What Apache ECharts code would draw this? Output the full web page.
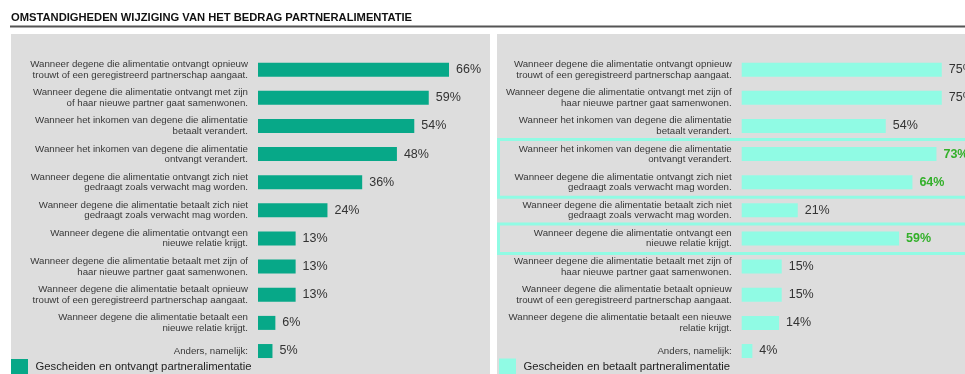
<!DOCTYPE html>
<html>
<head>
<meta charset="utf-8">
<script src="https://cdn.jsdelivr.net/npm/echarts@6/dist/echarts.min.js"></script>
<style>
  html, body { margin: 0; padding: 0; background: #fff; }
  #chart { width: 965px; height: 374px; }
</style>
</head>
<body>
<div id="chart"></div>
<script>
// Survey answers: which circumstances should change partner alimony (% of respondents)
const leftCategories = [
  'Wanneer degene die alimentatie ontvangt opnieuw\ntrouwt of een geregistreerd partnerschap aangaat.',
  'Wanneer degene die alimentatie ontvangt met zijn\nof haar nieuwe partner gaat samenwonen.',
  'Wanneer het inkomen van degene die alimentatie\nbetaalt verandert.',
  'Wanneer het inkomen van degene die alimentatie\nontvangt verandert.',
  'Wanneer degene die alimentatie ontvangt zich niet\ngedraagt zoals verwacht mag worden.',
  'Wanneer degene die alimentatie betaalt zich niet\ngedraagt zoals verwacht mag worden.',
  'Wanneer degene die alimentatie ontvangt een\nnieuwe relatie krijgt.',
  'Wanneer degene die alimentatie betaalt met zijn of\nhaar nieuwe partner gaat samenwonen.',
  'Wanneer degene die alimentatie betaalt opnieuw\ntrouwt of een geregistreerd partnerschap aangaat.',
  'Wanneer degene die alimentatie betaalt een\nnieuwe relatie krijgt.',
  'Anders, namelijk:'
];
const leftValues = [66, 59, 54, 48, 36, 24, 13, 13, 13, 6, 5];

const rightCategories = [
  'Wanneer degene die alimentatie ontvangt opnieuw\ntrouwt of een geregistreerd partnerschap aangaat.',
  'Wanneer degene die alimentatie ontvangt met zijn of\nhaar nieuwe partner gaat samenwonen.',
  'Wanneer het inkomen van degene die alimentatie\nbetaalt verandert.',
  'Wanneer het inkomen van degene die alimentatie\nontvangt verandert.',
  'Wanneer degene die alimentatie ontvangt zich niet\ngedraagt zoals verwacht mag worden.',
  'Wanneer degene die alimentatie betaalt zich niet\ngedraagt zoals verwacht mag worden.',
  'Wanneer degene die alimentatie ontvangt een\nnieuwe relatie krijgt.',
  'Wanneer degene die alimentatie betaalt met zijn of\nhaar nieuwe partner gaat samenwonen.',
  'Wanneer degene die alimentatie betaalt opnieuw\ntrouwt of een geregistreerd partnerschap aangaat.',
  'Wanneer degene die alimentatie betaalt een nieuwe\nrelatie krijgt.',
  'Anders, namelijk:'
];
const rightValues = [75, 75, 54, 73, 64, 21, 59, 15, 15, 14, 4];
// rows (index ranges) that are framed and labelled in green
const rightHighlightGroups = [[3, 4], [6, 6]];

const seriesNames = [
  'Gescheiden en ontvangt partneralimentatie',
  'Gescheiden en betaalt partneralimentatie'
];
const titleText = 'OMSTANDIGHEDEN WIJZIGING VAN HET BEDRAG PARTNERALIMENTATIE';

const FONT = '"Liberation Sans", Arial, sans-serif';
const LEFT_COLOR = '#07a888';
const RIGHT_COLOR = '#90fbe4';
const PANEL_COLOR = '#dddddd';
const HIGHLIGHT_TEXT = '#33b02a';

const highlightRows = new Set();
rightHighlightGroups.forEach(g => { for (let i = g[0]; i <= g[1]; i++) highlightRows.add(i); });

const gridTop = 55.6, gridHeight = 309.5;

function yAxisFor(cats, gridIndex) {
  return {
    type: 'category', gridIndex, data: cats, inverse: true,
    axisLine: { show: false }, axisTick: { show: false }, splitLine: { show: false },
    axisLabel: {
      margin: 10, fontSize: 9.7, lineHeight: 10.5, color: '#383838',
      fontFamily: FONT, align: 'right'
    }
  };
}
function xAxisFor(gridIndex, max) {
  return { type: 'value', gridIndex, min: 0, max, show: false };
}
const valueLabel = {
  show: true, position: 'right', distance: 7, formatter: '{c}%',
  fontSize: 12.5, color: '#333', fontFamily: FONT
};
const legendText = { fontSize: 11.3, color: '#222', fontFamily: FONT, padding: [0, 0, 0, 2.5] };

const chart = echarts.init(document.getElementById('chart'), null, { renderer: 'canvas' });

const option = {
  animation: false,
  backgroundColor: '#fff',
  title: {
    text: titleText, left: 11, top: 12.5, padding: 0,
    textStyle: { fontSize: 11.2, fontWeight: 'bold', color: '#111', fontFamily: FONT }
  },
  graphic: [
    { type: 'rect', z: 0, shape: { x: 10, y: 25.5, width: 960, height: 2 }, style: { fill: '#555' } },
    { type: 'rect', z: 0, shape: { x: 11, y: 34, width: 479, height: 345 }, style: { fill: PANEL_COLOR } },
    { type: 'rect', z: 0, shape: { x: 497, y: 34, width: 480, height: 345 }, style: { fill: PANEL_COLOR } }
  ],
  legend: [
    {
      data: [seriesNames[0]], left: 11, top: 359, padding: 0, itemWidth: 17, itemHeight: 16,
      icon: 'rect', textStyle: legendText
    },
    {
      data: [seriesNames[1]], left: 499, top: 358.5, padding: 0, itemWidth: 17, itemHeight: 16,
      icon: 'rect', textStyle: legendText
    }
  ],
  grid: [
    { left: 258, top: gridTop, width: 289.4, height: gridHeight },
    { left: 741.7, top: gridTop, width: 213.4, height: gridHeight }
  ],
  xAxis: [xAxisFor(0, 100), xAxisFor(1, 80)],
  yAxis: [yAxisFor(leftCategories, 0), yAxisFor(rightCategories, 1)],
  series: [
    {
      name: seriesNames[0], type: 'bar', xAxisIndex: 0, yAxisIndex: 0,
      data: leftValues, barWidth: 14, itemStyle: { color: LEFT_COLOR }, label: valueLabel
    },
    {
      name: seriesNames[1], type: 'bar', xAxisIndex: 1, yAxisIndex: 1,
      data: rightValues.map((v, i) => highlightRows.has(i)
        ? { value: v, label: { color: HIGHLIGHT_TEXT, fontWeight: 'bold', fontSize: 12.5 } }
        : v),
      barWidth: 14, itemStyle: { color: RIGHT_COLOR }, label: valueLabel
    }
  ]
};
chart.setOption(option);

// Frames around the highlighted rows, placed from the category axis bands
const band = gridHeight / rightCategories.length;
const frames = rightHighlightGroups.map(g => {
  const c0 = chart.convertToPixel({ yAxisIndex: 1 }, rightCategories[g[0]]);
  const c1 = chart.convertToPixel({ yAxisIndex: 1 }, rightCategories[g[1]]);
  const y0 = c0 - band / 2 - 0.5, y1 = c1 + band / 2 + 1;
  return {
    type: 'rect', z: 1,
    shape: { x: 498.5, y: y0, width: 500, height: y1 - y0 },
    style: { fill: 'none', stroke: RIGHT_COLOR, lineWidth: 3 }
  };
});
chart.setOption({ graphic: option.graphic.concat(frames) });
</script>
</body>
</html>
